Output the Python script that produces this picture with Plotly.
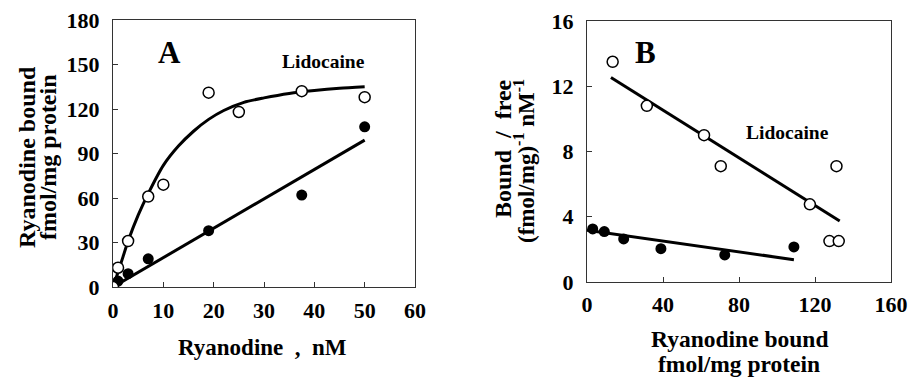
import plotly.graph_objects as go

# ---- Panel A data ----
a_open_x = [0, 1, 3, 7, 10, 19, 25, 37.5, 50]
a_open_y = [0, 13, 31, 61, 69, 131, 118, 132, 128]
a_fill_x = [1, 3, 7, 19, 37.5, 50]
a_fill_y = [4, 9, 19, 38, 62, 108]
a_fit_open_x = [0, 1, 2, 3, 5, 7, 10, 13, 16, 19, 22, 26, 30, 35, 40, 45, 50]
a_fit_open_y = [0, 10, 20.5, 31, 48.5, 63, 82, 95, 105, 113, 119, 124.5, 127.5, 130.5, 132.5, 134, 135]
a_fit_fill_x = [0, 50]
a_fit_fill_y = [0, 99]

# ---- Panel B data ----
b_open_x = [13.5, 31.5, 61.6, 70.4, 117.3, 131.3, 127.6, 132.5]
b_open_y = [13.5, 10.8, 9.0, 7.1, 4.76, 7.1, 2.51, 2.51]
b_fill_x = [3, 9.1, 19.3, 38.9, 72.5, 108.9]
b_fill_y = [3.25, 3.09, 2.64, 2.04, 1.66, 2.15]
b_fit_open_x = [12.6, 133]
b_fit_open_y = [12.53, 3.74]
b_fit_fill_x = [0, 108.9]
b_fit_fill_y = [3.17, 1.37]

W, H = 908, 377
def px(x): return x / W
def py(y): return (H - y) / H

FONT = "Liberation Serif"
tickfont = dict(family=FONT, size=22, color="black", weight="bold")

fig = go.Figure()

def add_panel(xa, ya, fx, fy, fox, foy, ox, oy, fillx, filly, spline):
    fig.add_trace(go.Scatter(x=fox, y=foy, mode="lines", xaxis=xa, yaxis=ya,
                             line=dict(color="black", width=3, shape="spline" if spline else "linear",
                                       smoothing=0.7),
                             showlegend=False, hoverinfo="skip"))
    fig.add_trace(go.Scatter(x=fx, y=fy, mode="lines", xaxis=xa, yaxis=ya,
                             line=dict(color="black", width=3), showlegend=False, hoverinfo="skip"))
    fig.add_trace(go.Scatter(x=fillx, y=filly, mode="markers", xaxis=xa, yaxis=ya,
                             marker=dict(symbol="circle", size=11, color="black"),
                             showlegend=False))
    fig.add_trace(go.Scatter(x=ox, y=oy, mode="markers", xaxis=xa, yaxis=ya,
                             marker=dict(symbol="circle", size=11, color="white",
                                         line=dict(color="black", width=1.5)),
                             showlegend=False))

add_panel("x", "y", a_fit_fill_x, a_fit_fill_y, a_fit_open_x, a_fit_open_y,
          a_open_x, a_open_y, a_fill_x, a_fill_y, True)
add_panel("x2", "y2", b_fit_fill_x, b_fit_fill_y, b_fit_open_x, b_fit_open_y,
          b_open_x, b_open_y, b_fill_x, b_fill_y, False)

axcommon = dict(showgrid=False, zeroline=False, showline=True, mirror=True,
                linecolor="#333", linewidth=1.2, ticks="inside", ticklen=5,
                tickcolor="#333", tickfont=tickfont, automargin=False)

fig.update_layout(
    width=W, height=H, margin=dict(l=0, r=0, t=0, b=0, autoexpand=False),
    paper_bgcolor="white", plot_bgcolor="white",
    xaxis=dict(domain=[px(113), px(415)], range=[0, 60], tickvals=[0, 10, 20, 30, 40, 50, 60],
               anchor="y", ticklabelstandoff=3, **axcommon),
    yaxis=dict(domain=[py(287), py(20)], range=[0, 180], tickvals=[0, 30, 60, 90, 120, 150, 180],
               anchor="x", ticklabelstandoff=8, **axcommon),
    xaxis2=dict(domain=[px(587), px(891)], range=[0, 160], tickvals=[0, 40, 80, 120, 160],
                anchor="y2", ticklabelstandoff=2, **axcommon),
    yaxis2=dict(domain=[py(282), py(21)], range=[0, 16], tickvals=[0, 4, 8, 12, 16],
                anchor="x2", ticklabelstandoff=8, **axcommon),
)

def ann(text, x, y, size, angle=0):
    fig.add_annotation(text=text, x=px(x), y=py(y), xref="paper", yref="paper",
                       showarrow=False, textangle=angle, xanchor="center", yanchor="middle",
                       font=dict(family=FONT, size=size, color="black", weight="bold"))

ann("A", 169, 52, 31)
ann("Lidocaine", 323, 62, 19.5)
ann("B", 645, 52, 31)
ann("Lidocaine", 787, 132, 19.5)
ann("Ryanodine  ,  nM", 262, 347, 23)
ann("Ryanodine bound", 27, 157, 24, -90)
ann("fmol/mg protein", 48, 157, 24, -90)
ann("Ryanodine bound", 739, 339, 23.5)
ann("fmol/mg protein", 739, 364, 23.5)
ann("Bound  /  free", 503, 149, 24, -90)
ann("(fmol/mg)<sup>-1</sup> nM<sup>-1</sup>", 525, 161, 23, -90)

fig.write_html("out.html", config={"displayModeBar": False},
               post_script="document.body.style.margin='0';document.body.style.overflow='hidden';")
